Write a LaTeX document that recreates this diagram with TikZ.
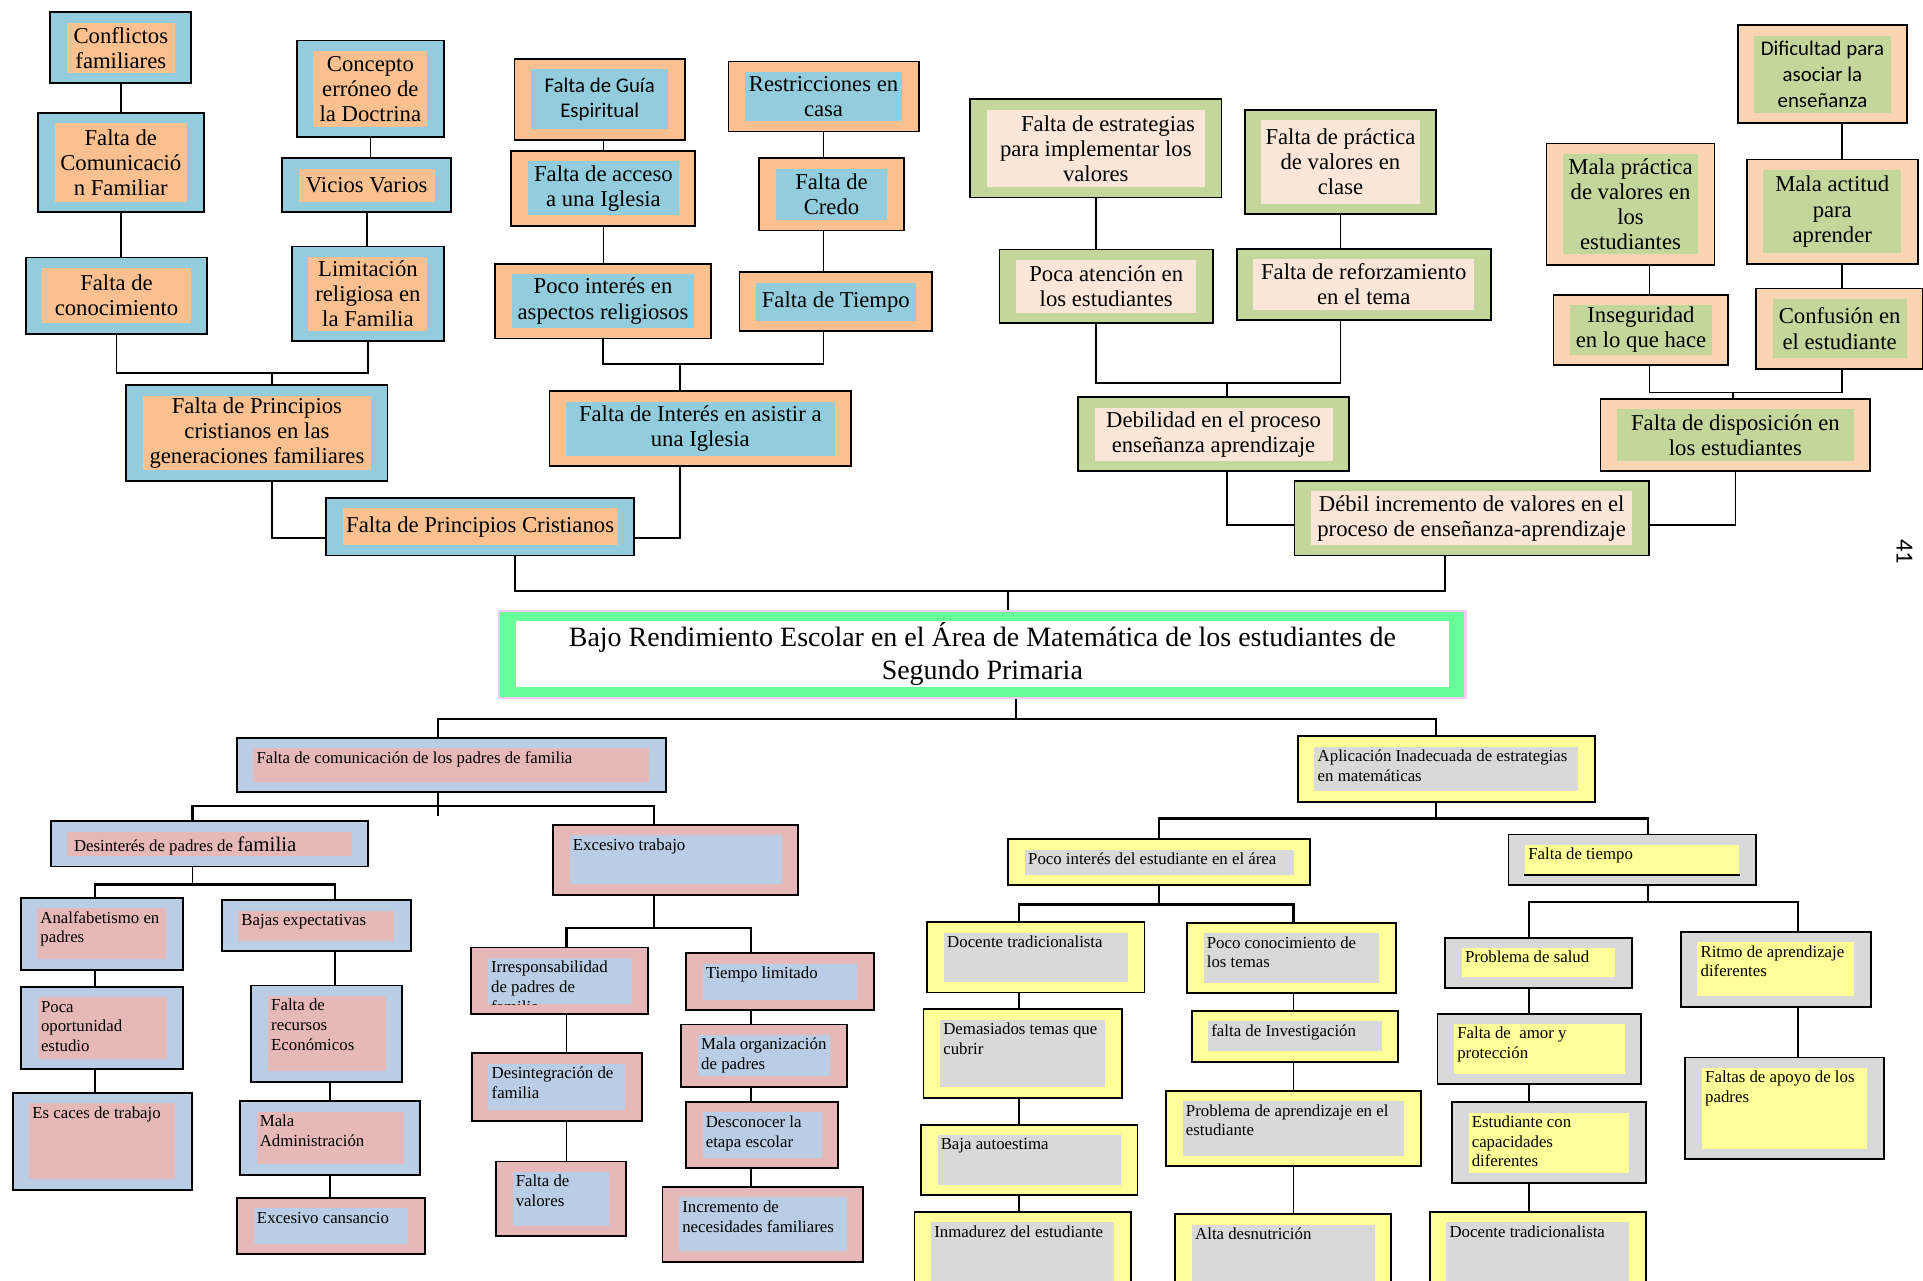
\documentclass[tikz,border=0pt]{standalone}
\usepackage{fontspec}
\setmainfont{Liberation Serif}
\newfontfamily\calib{Carlito}
\definecolor{cblue}{HTML}{93CDDD}
\definecolor{corange}{HTML}{FAC090}
\definecolor{cgreen}{HTML}{C3D69B}
\definecolor{cpink}{HTML}{FBE6D8}
\definecolor{cpeach}{HTML}{FBD4B4}
\definecolor{bblue}{HTML}{B9CDE5}
\definecolor{bpink}{HTML}{E6B9B8}
\definecolor{yel}{HTML}{FFFF99}
\definecolor{gry}{HTML}{D9D9D9}
\definecolor{tgreen}{HTML}{66FF99}
\definecolor{tpink}{HTML}{F9CCF5}
\newcommand\ftop{\fontsize{18.5}{20.5}\selectfont}
\newcommand\fmid{\fontsize{18.5}{20.5}\selectfont}
\newcommand\fbot{\fontsize{13.7}{16}\selectfont}
\newcommand\innerfill[1]{\fill[#1] ([shift={(13.5pt,8.5pt)}]path picture bounding box.south west) rectangle ([shift={(-13.5pt,-8.5pt)}]path picture bounding box.north east);}

\begin{document}
\begin{tikzpicture}[x=1pt,y=1pt]
\tikzstyle{every node}+=[inner sep=0pt]
\tikzset{sz/.style 2 args={minimum width=#1pt,minimum height=#2pt}}
\tikzstyle{bx}=[draw=black,line width=1.5pt,align=center]
\tikzstyle{tl}=[bx,fill=cblue,path picture={\innerfill{corange}},font=\ftop]
\tikzstyle{tm}=[bx,fill=corange,path picture={\innerfill{cblue}},font=\fmid]
\tikzstyle{gr}=[bx,fill=cgreen,path picture={\innerfill{cpink}},font=\ftop]
\tikzstyle{pr}=[bx,fill=cpeach,path picture={\innerfill{cgreen}},font=\ftop]
\tikzstyle{bp}=[bx,fill=bblue,path picture={\innerfill{bpink}}]
\tikzstyle{pb}=[bx,fill=bpink,path picture={\innerfill{bblue}}]
\tikzstyle{yg}=[bx,fill=yel,path picture={\innerfill{gry}}]
\tikzstyle{gy}=[bx,fill=gry,path picture={\innerfill{yel}}]
\tikzstyle{tx}=[anchor=north west,align=left,font=\fbot]
\tikzstyle{ln}=[line width=1.4pt]
\tikzstyle{bar}=[line width=1.9pt]
\fill[white] (0,0) rectangle (1568,-1044);
\useasboundingbox (0,0) rectangle (1568,-1044);

\node[tl,sz={115}{58}] (a1) at (98.5,-39) {Conflictos\\familiares};
\node[tl,sz={135}{81}] (a2) at (98.5,-132.5) {Falta de\\Comunicació\\n Familiar};
\node[tl,sz={148}{62}] (a3) at (95,-241) {Falta de\\conocimiento};
\node[tl,sz={120}{79}] (a4) at (302,-72.5) {Concepto\\erróneo de\\la Doctrina};
\node[tl,sz={138}{44}] (a5) at (299,-151) {Vicios Varios};
\node[tl,sz={124}{77}] (a6) at (300,-239.5) {Limitación\\religiosa en\\la Familia};
\node[tl,sz={213}{78}] (a7) at (209.5,-353) {Falta de Principios\\cristianos en las\\generaciones familiares};
\node[tl,sz={251}{47}] (a8) at (391.5,-429.5) {Falta de Principios Cristianos};

\node[tm,sz={139}{66},font=\calib\fontsize{17}{21}\selectfont] (b1) at (489,-81) {Falta de Guía\\Espiritual};
\node[tm,sz={150}{61}] (b2) at (492,-153.5) {Falta de acceso\\a una Iglesia};
\node[tm,sz={176}{61}] (b3) at (491.7,-245.5) {Poco interés en\\aspectos religiosos};
\node[tm,sz={155}{57}] (b4) at (671.5,-78.7) {Restricciones en\\casa};
\node[tm,sz={118}{59}] (b5) at (678,-158.5) {Falta de\\Credo};
\node[tm,sz={157}{48}] (b6) at (681.5,-246) {Falta de Tiempo};
\node[tm,sz={246}{61}] (b7) at (571,-349.5) {Falta de Interés en asistir a\\una Iglesia};

\node[gr,sz={205}{80}] (c1) at (893.5,-121) {\hspace*{20pt}Falta de estrategias\\para implementar los\\valores};
\node[gr,sz={156}{85}] (c2) at (1093,-132) {Falta de práctica\\de valores en\\clase};
\node[gr,sz={174}{60}] (c3) at (902,-233.5) {Poca atención en\\los estudiantes};
\node[gr,sz={207}{58}] (c4) at (1112,-232) {Falta de reforzamiento\\en el tema};
\node[gr,sz={221}{60}] (c5) at (989.5,-354) {Debilidad en el proceso\\enseñanza aprendizaje};
\node[gr,sz={289}{61}] (c6) at (1200,-422.5) {Débil incremento de valores en el\\proceso de enseñanza-aprendizaje};

\node[pr,sz={220}{59}] (d1) at (1415,-354.7) {Falta de disposición en\\los estudiantes};
\node[pr,sz={138}{80},font=\calib\fontsize{17}{21}\selectfont] (d2) at (1486,-60.6) {Dificultad para\\asociar la\\enseñanza};
\node[pr,sz={137}{99}] (d3) at (1329.5,-166.5) {Mala práctica\\de valores en\\los\\estudiantes};
\node[pr,sz={139.5}{85}] (d4) at (1494,-172.5) {Mala actitud\\para\\aprender};
\node[pr,sz={142.5}{57.6}] (d5) at (1338,-269) {Inseguridad\\en lo que hace};
\node[pr,sz={136.4}{65.5}] (d6) at (1500,-268) {Confusión en\\el estudiante};

\node[bx,sz={788}{71},draw=tpink,line width=2pt,fill=tgreen,path picture={\innerfill{white}},font=\fontsize{22.8}{27}\selectfont] (t0) at (801,-533.5) {Bajo Rendimiento Escolar en el Área de Matemática de los estudiantes de\\Segundo Primaria};
\node[rotate=-90,font=\calib\fontsize{20}{20}\selectfont] (pg) at (1553,-450) {41};

\draw[ln] (a1) -- (a2);
\draw[ln] (a2.south) -- (a2.south |- a3.north);
\draw[ln] (a4.south) -- (a4.south |- a5.north);
\draw[ln] (a5.south) -- (a5.south |- a6.north);
\coordinate (j1) at (222,-304);
\draw[ln] (a3.south) |- (j1) -| (a6.south);
\draw[ln] (j1) -- (j1 |- a7.north);
\draw[ln] (j1 |- a7.south) |- ([yshift=-9pt]a8.west);

\draw[ln] (b2.north |- b1.south) -- (b2.north);
\draw[ln] (b2.south) -- (b2.south |- b3.north);
\draw[ln] (b4.south) -- (b4.south |- b5.north);
\draw[ln] (b4.south |- b5.south) -- (b4.south |- b6.north);
\coordinate (j2) at (554.5,-297);
\draw[ln] (b3.south) |- (j2) -| (b4.south |- b6.south);
\draw[ln] (j2) -- (j2 |- b7.north);
\draw[ln] (j2 |- b7.south) |- ([yshift=-9pt]a8.east);

\draw[ln] (c1.south) -- (c1.south |- c3.north);
\draw[ln] (c2.south) -- (c2.south |- c4.north);
\coordinate (j3) at (1000.6,-312);
\draw[ln] (c1.south |- c3.south) |- (j3) -| (c2.south |- c4.south);
\draw[ln] (j3) -- (j3 |- c5.north);
\draw[ln] (j3 |- c5.south) |- ([yshift=-5.5pt]c6.west);
\draw[ln] ([yshift=-5.5pt]c6.east) -| (d1.south);

\coordinate (cc) at (1345,-320);
\coordinate (cd) at (1502,-320);
\coordinate (j5) at (1413,-320);
\draw[ln] (cd |- d2.south) -- (cd |- d4.north);
\draw[ln] (cd |- d4.south) -- (cd |- d6.north);
\draw[ln] (cc |- d3.south) -- (cc |- d5.north);
\draw[ln] (cc |- d5.south) -- (cc) -- (cd) -- (cd |- d6.south);
\draw[ln] (j5) -- (j5 |- d1.north);

\coordinate (j6) at (822,-482);
\draw[ln] ([xshift=28.5pt]a8.south) |- (j6) -| ([xshift=-22pt]c6.south);
\draw[ln] (j6) -- (j6 |- t0.north);

\node[bp,sz={350}{44}] (e1) at (368,-623.8) {};
\node[bp,sz={259}{37}] (e2) at (170.8,-688) {};
\node[pb,sz={200}{57}] (e3) at (551,-701) {};
\node[bp,sz={132.4}{58.6}] (e4) at (83,-761.3) {};
\node[bp,sz={154.3}{41.5}] (e5) at (257.9,-754.7) {};
\node[bp,sz={132}{67}] (e6) at (83.3,-838.3) {};
\node[bp,sz={123}{78.5}] (e7) at (266.5,-842.8) {};
\node[bp,sz={146}{78.8}] (e8) at (83.3,-930.6) {};
\node[bp,sz={147}{60}] (e9) at (269.2,-927.8) {};
\node[pb,sz={153}{46}] (e10) at (269.9,-999.8) {};
\node[pb,sz={144.2}{54.2}] (e11) at (456.4,-799.7) {};
\node[pb,sz={153}{46.4}] (e12) at (635.9,-800.4) {};
\node[pb,sz={138.5}{55}] (e13) at (454,-886.3) {};
\node[pb,sz={134.8}{50.8}] (e14) at (623,-860.8) {};
\node[pb,sz={105.8}{61}] (e15) at (457.3,-977.5) {};
\node[pb,sz={124}{53.8}] (e16) at (621.4,-925.5) {};
\node[pb,sz={163.8}{61}] (e17) at (622.1,-998.4) {};

\node[tx] (e1t) at ([shift={(16.7pt,-10pt)}]e1.north west) {\strut Falta de comunicación de los padres de familia};
\node[tx] (e2t) at ([shift={(19.6pt,-13.4pt)}]e2.north west) {\strut Desinterés de padres de {\fontsize{17}{17}\selectfont familia}};
\node[tx] (e3t) at ([shift={(16.7pt,-10pt)}]e3.north west) {\strut Excesivo trabajo};
\node[tx] (e4t) at ([shift={(16.7pt,-10pt)}]e4.north west) {\strut Analfabetismo en\\padres};
\node[tx] (e5t) at ([shift={(16.7pt,-10pt)}]e5.north west) {\strut Bajas expectativas};
\node[tx] (e6t) at ([shift={(16.7pt,-10pt)}]e6.north west) {\strut Poca\\oportunidad\\estudio};
\node[tx] (e7t) at ([shift={(16.7pt,-10pt)}]e7.north west) {\strut Falta de\\recursos\\Económicos};
\node[tx] (e8t) at ([shift={(16.7pt,-10pt)}]e8.north west) {\strut Es caces de trabajo};
\node[tx] (e9t) at ([shift={(16.7pt,-10pt)}]e9.north west) {\strut Mala\\Administración};
\node[tx] (e10t) at ([shift={(16.7pt,-10pt)}]e10.north west) {\strut Excesivo cansancio};
\begin{scope}
\clip ([shift={(13.5pt,8.5pt)}]e11.south west) rectangle (e11.north east);
\node[tx] (e11t) at ([shift={(16.7pt,-10pt)}]e11.north west) {\strut Irresponsabilidad\\de padres de\\familia};
\end{scope}
\node[tx] (e12t) at ([shift={(16.7pt,-10pt)}]e12.north west) {\strut Tiempo limitado};
\node[tx] (e13t) at ([shift={(16.7pt,-10pt)}]e13.north west) {\strut Desintegración de\\familia};
\node[tx] (e14t) at ([shift={(16.7pt,-10pt)}]e14.north west) {\strut Mala organización\\de padres};
\node[tx] (e15t) at ([shift={(16.7pt,-10pt)}]e15.north west) {\strut Falta de\\valores};
\node[tx] (e16t) at ([shift={(16.7pt,-10pt)}]e16.north west) {\strut Desconocer la\\etapa escolar};
\node[tx] (e17t) at ([shift={(16.7pt,-10pt)}]e17.north west) {\strut Incremento de\\necesidades familiares};

\node[yg,sz={242}{53.6}] (f1) at (1179.3,-627) {};
\node[yg,sz={246.2}{37.2}] (f2) at (945.3,-703) {};
\node[gy,sz={201.7}{41}] (f3) at (1330.9,-701) {};
\node[yg,sz={177}{57.4}] (f4) at (844.7,-780.6) {};
\node[yg,sz={170.2}{57.4}] (f5) at (1053,-781.2) {};
\node[yg,sz={161.7}{72.2}] (f6) at (833.9,-859.1) {};
\node[yg,sz={168.6}{41.4}] (f7) at (1055.9,-845.1) {};
\node[yg,sz={176.5}{57.4}] (f8) at (839.2,-945.7) {};
\node[yg,sz={207.5}{61.7}] (f9) at (1054.6,-920.2) {};
\node[yg,sz={176.5}{72}] (f10) at (833.9,-1024) {};
\node[yg,sz={176}{70}] (f11) at (1046.4,-1025.2) {};
\node[gy,sz={152}{41}] (f12) at (1254.5,-785) {};
\node[gy,sz={166}{57.6}] (f13) at (1255.1,-855.3) {};
\node[gy,sz={157.9}{66.1}] (f14) at (1262.9,-931.8) {};
\node[yg,sz={176}{72}] (f15) at (1253.8,-1024.2) {};
\node[gy,sz={154.8}{61.1}] (f16) at (1447.9,-790.4) {};
\node[gy,sz={161.7}{83}] (f17) at (1455.1,-903.8) {};
\draw[line width=1.5pt] ([shift={(13.5pt,9pt)}]f3.south west) -- ([shift={(-13.5pt,9pt)}]f3.south east);

\node[tx] (f1t) at ([shift={(16.7pt,-10pt)}]f1.north west) {\strut Aplicación Inadecuada de estrategias\\en matemáticas};
\node[tx] (f2t) at ([shift={(16.7pt,-10pt)}]f2.north west) {\strut Poco interés del estudiante en el área};
\node[tx] (f3t) at ([shift={(16.7pt,-10pt)}]f3.north west) {\strut Falta de tiempo};
\node[tx] (f4t) at ([shift={(16.7pt,-10pt)}]f4.north west) {\strut Docente tradicionalista};
\node[tx] (f5t) at ([shift={(16.7pt,-10pt)}]f5.north west) {\strut Poco conocimiento de\\los temas};
\node[tx] (f6t) at ([shift={(16.7pt,-10pt)}]f6.north west) {\strut Demasiados temas que\\cubrir};
\node[tx] (f7t) at ([shift={(16.7pt,-10pt)}]f7.north west) {\strut falta de Investigación};
\node[tx] (f8t) at ([shift={(16.7pt,-10pt)}]f8.north west) {\strut Baja autoestima};
\node[tx] (f9t) at ([shift={(16.7pt,-10pt)}]f9.north west) {\strut Problema de aprendizaje en el\\estudiante};
\node[tx] (f10t) at ([shift={(16.7pt,-10pt)}]f10.north west) {\strut Inmadurez del estudiante};
\node[tx] (f11t) at ([shift={(16.7pt,-10pt)}]f11.north west) {\strut Alta desnutrición};
\node[tx] (f12t) at ([shift={(16.7pt,-10pt)}]f12.north west) {\strut Problema de salud};
\node[tx] (f13t) at ([shift={(16.7pt,-10pt)}]f13.north west) {\strut Falta de\ \ amor y\\protección};
\node[tx] (f14t) at ([shift={(16.7pt,-10pt)}]f14.north west) {\strut Estudiante con\\capacidades\\diferentes};
\node[tx] (f15t) at ([shift={(16.7pt,-10pt)}]f15.north west) {\strut Docente tradicionalista};
\node[tx] (f16t) at ([shift={(16.7pt,-10pt)}]f16.north west) {\strut Ritmo de aprendizaje\\diferentes};
\node[tx] (f17t) at ([shift={(16.7pt,-10pt)}]f17.north west) {\strut Faltas de apoyo de los\\padres};

\coordinate (j7) at (828.6,-586);
\coordinate (l1) at (357,-586);
\coordinate (r1) at (1171,-586);
\draw[ln] (j7 |- t0.south) -- (j7);
\draw[bar] (l1 |- e1.north) |- (r1) -- (r1 |- f1.north);

\coordinate (l2) at (157,-657);
\coordinate (r2) at (533,-657);
\draw[ln] (l1 |- e1.south) -- ++(0,-18.4);
\draw[bar] (l2 |- e2.north) |- (r2) -- (r2 |- e3.north);
\coordinate (l3) at (77.2,-721.3);
\coordinate (r3) at (273,-721.3);
\draw[ln] (l2 |- e2.south) -- (l2 |- l3);
\draw[bar] (l3 |- e4.north) |- (r3) -- (r3 |- e5.north);
\draw[ln] (l3 |- e4.south) -- (l3 |- e6.north);
\draw[ln] (l3 |- e6.south) -- (l3 |- e8.north);
\draw[ln] (r3 |- e5.south) -- (r3 |- e7.north);
\draw[ln] (e9.north |- e7.south) -- (e9.north);
\draw[ln] (e9.south) -- (e9.south |- e10.north);
\coordinate (l4) at (462,-756.6);
\coordinate (r4) at (612.3,-756.6);
\draw[ln] (r2 |- e3.south) -- (r2 |- l4);
\draw[bar] (l4 |- e11.north) |- (r4) -- (r4 |- e12.north);
\draw[ln] (l4 |- e11.south) -- (l4 |- e13.north);
\draw[ln] (l4 |- e13.south) -- (l4 |- e15.north);
\draw[ln] (r4 |- e12.south) -- (r4 |- e14.north);
\draw[ln] (r4 |- e14.south) -- (r4 |- e16.north);
\draw[ln] (r4 |- e16.south) -- (r4 |- e17.north);

\coordinate (l5) at (945,-667.5);
\coordinate (r5) at (1344,-667.5);
\draw[ln] (r1 |- f1.south) -- (r1 |- l5);
\draw[bar] (l5 |- f2.north) |- (r5) -- (r5 |- f3.north);
\coordinate (l6) at (831,-737.4);
\coordinate (r6) at (1054.6,-737.4);
\draw[ln] (l5 |- f2.south) -- (l5 |- l6);
\draw[bar] (l6 |- f4.north) |- (r6) -- (r6 |- f5.north);
\draw[ln] (l6 |- f4.south) -- (l6 |- f6.north);
\draw[bar] (l6 |- f6.south) -- (l6 |- f8.north);
\draw[ln] (l6 |- f8.south) -- (l6 |- f10.north);
\draw[ln] (r6 |- f5.south) -- (r6 |- f7.north);
\draw[ln] (r6 |- f7.south) -- (r6 |- f9.north);
\draw[ln] (r6 |- f9.south) -- (r6 |- f11.north);
\coordinate (l7) at (1246.5,-735.6);
\coordinate (r7) at (1466,-735.6);
\draw[ln] (r5 |- f3.south) -- (r5 |- l7);
\draw[bar] (l7 |- f12.north) |- (r7) -- (r7 |- f16.north);
\draw[ln] (l7 |- f12.south) -- (l7 |- f13.north);
\draw[ln] (l7 |- f13.south) -- (l7 |- f14.north);
\draw[ln] (l7 |- f14.south) -- (l7 |- f15.north);
\draw[ln] (r7 |- f16.south) -- (r7 |- f17.north);
\end{tikzpicture}
\end{document}
